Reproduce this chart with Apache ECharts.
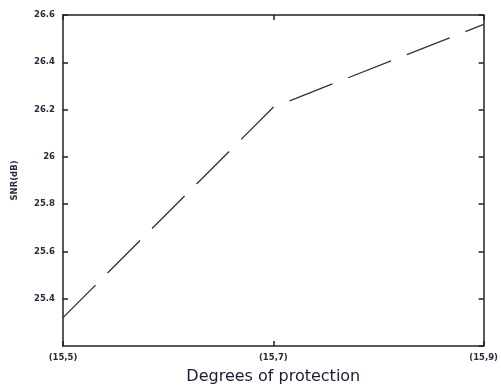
<!DOCTYPE html>
<html lang="en">
  <head>
    <meta charset="UTF-8" />
    <title>SNR</title>
    <script src="https://cdn.jsdelivr.net/npm/echarts@6/dist/echarts.min.js"></script>
    <style>
      html, body { margin: 0; padding: 0; background: #fff; }
    </style>
  </head>
  <body>
    <div id="main" style="width: 501px; height: 390px"></div>
    <script>
      // categories + values
      var categories = ["(15,5)", "(15,7)", "(15,9)"];
      var snr = [25.32, 26.21, 26.56];

      var myChart = echarts.init(document.getElementById("main"));
      var tickStyle = { show: true, inside: true, length: 5, lineStyle: { color: "#222", width: 1.5 } };
      var labelFont = { fontFamily: "DejaVu Sans", fontSize: 8.5, fontWeight: "bold", color: "#2a2a40" };
      var option = {
        animation: false,
        grid: { left: 63, right: 16, top: 15, bottom: 42 },
        xAxis: [
          {
            type: "category",
            data: categories,
            boundaryGap: false,
            name: "Degrees of protection",
            nameLocation: "middle",
            nameGap: 23,
            nameTextStyle: { fontFamily: "DejaVu Sans", fontSize: 16, color: "#1e1a30" },
            axisLine: { lineStyle: { color: "#222", width: 1.5 } },
            axisTick: tickStyle,
            axisLabel: Object.assign({ margin: 7 }, labelFont),
          },
          {
            type: "category",
            data: categories,
            boundaryGap: false,
            position: "top",
            axisLine: { lineStyle: { color: "#222", width: 1.5 } },
            axisTick: tickStyle,
            axisLabel: { show: false },
          },
        ],
        yAxis: [
          {
            type: "value",
            min: 25.2,
            max: 26.6,
            interval: 0.2,
            name: "SNR(dB)",
            nameLocation: "middle",
            nameGap: 44,
            nameTextStyle: labelFont,
            axisLine: { show: true, lineStyle: { color: "#222", width: 1.5 } },
            axisTick: tickStyle,
            splitLine: { show: false },
            axisLabel: Object.assign({ showMinLabel: false, margin: 8 }, labelFont),
          },
          {
            type: "value",
            min: 25.2,
            max: 26.6,
            interval: 0.2,
            position: "right",
            axisLine: { show: true, lineStyle: { color: "#222", width: 1.5 } },
            axisTick: tickStyle,
            splitLine: { show: false },
            axisLabel: { show: false },
          },
        ],
        series: [
          {
            type: "line",
            data: snr,
            symbol: "none",
            lineStyle: { color: "#333", width: 1.3, type: [46, 17] },
          },
        ],
      };
      myChart.setOption(option);
    </script>
  </body>
</html>
